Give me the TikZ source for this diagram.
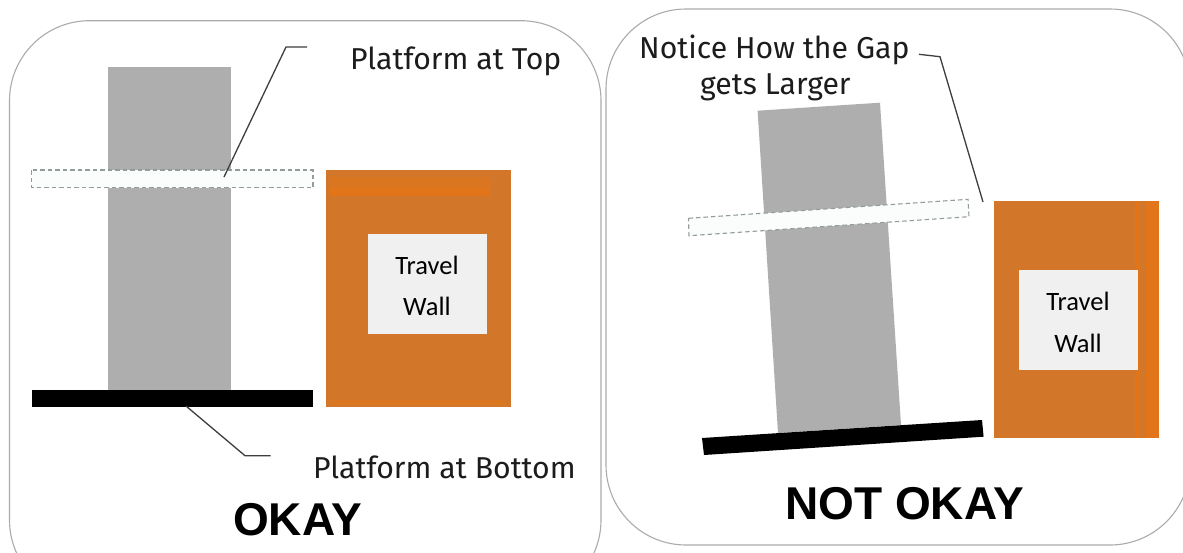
\documentclass[tikz,border=0pt]{standalone}
\usepackage{fontspec}
\setmainfont{Fira Sans}
\newfontfamily\wallfont{Carlito}
\newfontfamily\headfont{Liberation Sans}
\definecolor{panelline}{HTML}{ABABAB}
\definecolor{colgrey}{HTML}{AEAEAE}
\definecolor{wallorange}{HTML}{D2772A}
\definecolor{wallbright}{HTML}{E2741A}
\definecolor{wallmid}{HTML}{D9761F}
\definecolor{labelbox}{HTML}{F0F0F0}
\definecolor{dashgrey}{HTML}{939C9C}
\definecolor{platewhite}{HTML}{FBFDFC}
\definecolor{inkdark}{HTML}{1C1C1C}
\tikzset{
  x=1pt,y=-1pt,
  panel/.style={draw=panelline,line width=1.1pt,rounded corners=80pt},
  column/.style={fill=colgrey},
  wall/.style={fill=wallorange},
  wallband/.style={fill=wallbright},
  platetop/.style={draw=dashgrey,line width=1.1pt,dash pattern=on 4.5pt off 3pt},
  platebase/.style={fill=black},
  leader/.style={draw=inkdark!85,line width=1.3pt},
  caption/.style={anchor=base west,inner sep=0pt,text=inkdark,font=\fontsize{30.2}{32}\selectfont},
  walltext/.style={inner sep=0pt,font=\wallfont\fontsize{26.5}{28}\selectfont,text=black},
  verdict/.style={anchor=base west,inner sep=0pt,text=black,font=\headfont\bfseries\fontsize{46}{50}\selectfont},
  tag/.style={fill=labelbox,inner sep=0pt}
}
\begin{document}
\begin{tikzpicture}
\useasboundingbox (0,0) rectangle (1183,552);
\clip (0,0) rectangle (1183,552);
\fill[white] (0,0) rectangle (1183,552);
% left panel
\draw[panel] (9.5,20.7) rectangle (601,600);
\fill[column] (108,66.7) rectangle (231,390);
\fill[wall] (326,170) rectangle (510.5,407);
\fill[wallmid] (330,177) rectangle (490,188);
\fill[wallband] (330,188) rectangle (490,196);
\fill[wallmid] (330,400) rectangle (505,405);
\fill[platewhite] (31.5,170) rectangle (313,187.5);
\path[platetop] (31.5,170) rectangle (313,187.5);
\fill[platebase] (32,390) rectangle (313,407);
\node[tag,minimum width=119pt,minimum height=100pt] (tagL) at (427.5,284) {};
\node[walltext] (tL1) at (427,265) {Travel};
\node[walltext] (tL2) at (427,306) {Wall};
\coordinate (topA) at (307,47);
\coordinate (topB) at (286,47);
\coordinate (topC) at (224,177);
\coordinate (botA) at (186,406);
\coordinate (botB) at (245,455.7);
\coordinate (botC) at (270.6,455.7);
\draw[leader] (topA) -- (topB) -- (topC);
\draw[leader] (botA) -- (botB) -- (botC);
\node[caption] (capTop) at (350,69) {Platform at Top};
\node[caption] (capBot) at (313,478) {Platform at Bottom};
\node[verdict] (okL) at (233,535) {OKAY};
% right panel
\draw[panel] (606,9) rectangle (1190,545);
\fill[column] (757.6,110.7) -- (880,102.7) -- (901,425) -- (778,433) -- cycle;
\fill[wall] (994,200.7) rectangle (1159,438);
\fill[wallbright] (1135,200.7) rectangle (1159,438);
\fill[wall] (1140,200.7) rectangle (1146,438);
\fill[platewhite] (688.5,218.3) -- (968,199.3) -- (969,216.7) -- (689,235.7) -- cycle;
\path[platetop] (688.5,218.3) -- (968,199.3) -- (969,216.7) -- (689,235.7) -- cycle;
\fill[platebase] (702,438) -- (982,420) -- (983.6,436.7) -- (704,455) -- cycle;
\node[tag,minimum width=119pt,minimum height=100pt] (tagR) at (1078.5,320) {};
\node[walltext] (tR1) at (1078,301) {Travel};
\node[walltext] (tR2) at (1078,343) {Wall};
\coordinate (gapA) at (919,54.3);
\coordinate (gapB) at (940,56.7);
\coordinate (gapC) at (983,202);
\draw[leader] (gapA) -- (gapB) -- (gapC);
\node[caption] (capGap1) at (639,58) {Notice How the Gap};
\node[caption] (capGap2) at (700,94) {gets Larger};
\node[verdict] (okR) at (785,519) {NOT OKAY};
\end{tikzpicture}
\end{document}
